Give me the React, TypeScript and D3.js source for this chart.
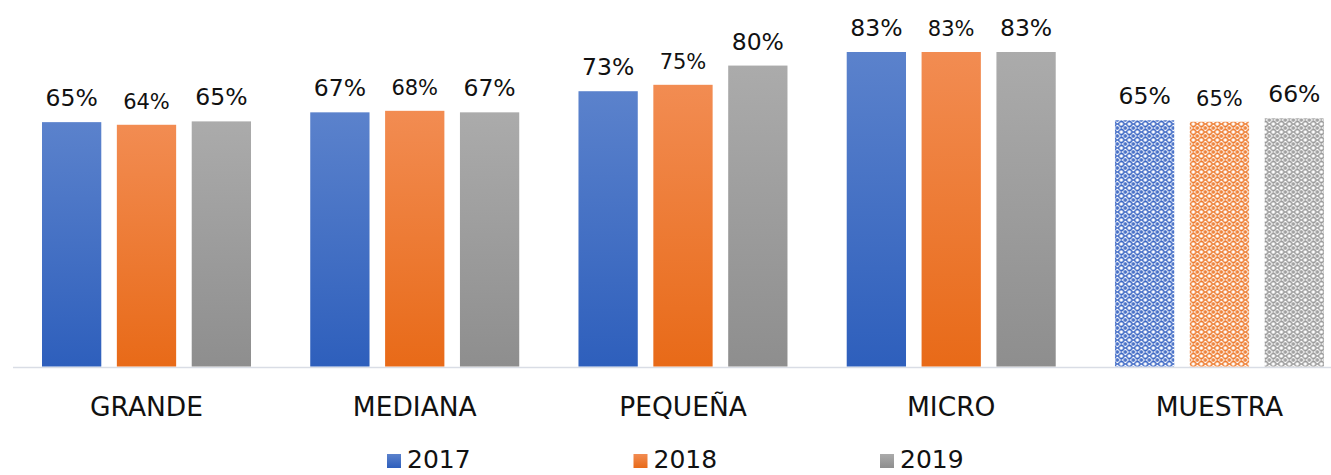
import React, { useRef, useEffect } from "react";
import * as d3 from "d3";

const categories = ["GRANDE", "MEDIANA", "PEQUEÑA", "MICRO", "MUESTRA"];
const years = ["2017", "2018", "2019"];
const v2017 = [64.8, 67.4, 73.0, 83.4, 65.3];
const v2018 = [64.1, 67.8, 74.7, 83.4, 64.9];
const v2019 = [65.0, 67.4, 79.8, 83.4, 65.8];

const topColors = ["#5b82cc", "#f28c52", "#ababab"];
const bottomColors = ["#2e5fbc", "#e86a18", "#8e8e8e"];
const patternColors = ["#3a66c4", "#ee7a2c", "#9a9a9a"];

const FONT = "'DejaVu Sans', Verdana, sans-serif";

export default function App() {
  const ref = useRef<SVGSVGElement>(null);
  const width = 1331;
  const height = 475;
  const baseline = 366.5;

  useEffect(() => {
    const svg = d3.select(ref.current);
    svg.selectAll("*").remove();

    const series = [v2017, v2018, v2019];

    const x = d3.scaleBand().domain(categories).range([12.4, 1353.6]).padding(0);
    const inner = d3
      .scaleBand()
      .domain(years)
      .range([29.6, 238.6])
      .paddingInner(0.208)
      .paddingOuter(0);
    const y = d3.scaleLinear().domain([0, 100]).range([baseline, baseline - 377.1]);

    const defs = svg.append("defs");
    years.forEach((yr, i) => {
      const g = defs
        .append("linearGradient")
        .attr("id", `grad${i}`)
        .attr("x1", 0)
        .attr("y1", 0)
        .attr("x2", 0)
        .attr("y2", 1);
      g.append("stop").attr("offset", "0%").attr("stop-color", topColors[i]);
      g.append("stop").attr("offset", "100%").attr("stop-color", bottomColors[i]);

      // lattice fill for the sample bars
      const p = defs
        .append("pattern")
        .attr("id", `pat${i}`)
        .attr("patternUnits", "userSpaceOnUse")
        .attr("width", 8)
        .attr("height", 8);
      p.append("rect").attr("width", 8).attr("height", 8).attr("fill", "#fff");
      p.append("circle")
        .attr("cx", 4)
        .attr("cy", 4)
        .attr("r", 2.5)
        .attr("fill", "none")
        .attr("stroke", patternColors[i])
        .attr("stroke-width", 1.4);
      p.append("path")
        .attr("d", "M0,0h2M6,0h2M0,8h2M6,8h2M0,4h1.5M6.5,4h1.5M0,0v2M8,0v2M0,6v2M8,6v2M4,0v1M4,7v1")
        .attr("stroke", patternColors[i])
        .attr("stroke-width", 1.4);
    });

    // axis line
    svg
      .append("line")
      .attr("x1", 13)
      .attr("x2", width)
      .attr("y1", baseline + 1)
      .attr("y2", baseline + 1)
      .attr("stroke", "#d9dde5")
      .attr("stroke-width", 1.6);

    const groups = svg
      .selectAll("g.cat")
      .data(categories)
      .join("g")
      .attr("class", "cat")
      .attr("transform", (d) => `translate(${x(d)},0)`);

    groups.each(function (cat, ci) {
      const g = d3.select(this);
      const isSample = cat === "MUESTRA";
      years.forEach((yr, si) => {
        const v = series[si][ci];
        g.append("rect")
          .attr("x", inner(yr)!)
          .attr("y", y(v))
          .attr("width", inner.bandwidth())
          .attr("height", y(0) - y(v))
          .attr("fill", isSample ? `url(#pat${si})` : `url(#grad${si})`);
        g.append("text")
          .attr("x", inner(yr)! + inner.bandwidth() / 2)
          .attr("y", y(v) - 16)
          .attr("text-anchor", "middle")
          .attr("font-family", FONT)
          .attr("font-size", si === 1 ? 21 : 23.5)
          .attr("fill", "#111")
          .text(`${Math.round(v)}%`);
      });
    });

    svg
      .selectAll("text.cat-label")
      .data(categories)
      .join("text")
      .attr("class", "cat-label")
      .attr("x", (d) => x(d)! + x.bandwidth() / 2)
      .attr("y", 416)
      .attr("text-anchor", "middle")
      .attr("font-family", FONT)
      .attr("font-size", 26.5)
      .attr("fill", "#111")
      .text((d) => d);

    const legend = svg
      .selectAll("g.legend")
      .data(years)
      .join("g")
      .attr("class", "legend")
      .attr("transform", (d, i) => `translate(${387 + i * 246.5},0)`);
    legend
      .append("rect")
      .attr("x", 0)
      .attr("y", 454)
      .attr("width", 14)
      .attr("height", 14)
      .attr("fill", (d, i) => `url(#grad${i})`);
    legend
      .append("text")
      .attr("x", 20)
      .attr("y", 468)
      .attr("font-family", FONT)
      .attr("font-size", 25)
      .attr("fill", "#111")
      .text((d) => d);
  }, []);

  return (
    <svg
      ref={ref}
      width={width}
      height={height}
      style={{ position: "absolute", left: 0, top: 0, background: "#fff" }}
    ></svg>
  );
}
